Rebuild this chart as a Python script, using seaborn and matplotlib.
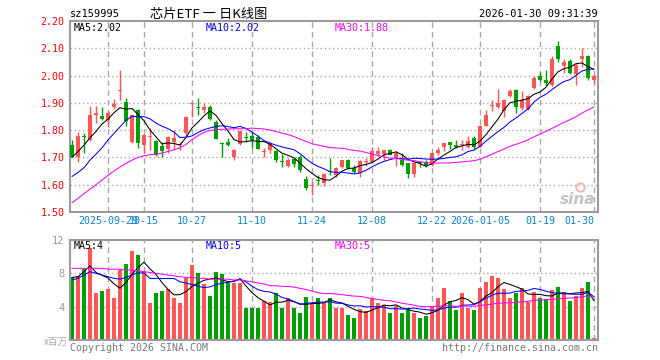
import numpy as np
import pandas as pd
import seaborn as sns
import matplotlib.pyplot as plt

# daily K-line, 2025-09-19 .. 2026-01-30 (88 sessions)
open_ = [1.746, 1.703, 1.778, 1.764, 1.857, 1.850, 1.837, 1.885, 1.944, 1.902,
         1.757, 1.874, 1.746, 1.774, 1.761, 1.742, 1.730, 1.758, 1.744, 1.790,
         1.896, 1.882, 1.874, 1.886, 1.831, 1.750, 1.755, 1.700, 1.749, 1.775,
         1.780, 1.774, 1.720, 1.727, 1.724, 1.687, 1.670, 1.694, 1.703, 1.620,
         1.597, 1.615, 1.605, 1.648, 1.636, 1.664, 1.691, 1.660, 1.642, 1.684,
         1.685, 1.712, 1.714, 1.728, 1.697, 1.691, 1.679, 1.640, 1.680, 1.685,
         1.673, 1.716, 1.738, 1.756, 1.746, 1.745, 1.738, 1.771, 1.740, 1.816,
         1.888, 1.885, 1.869, 1.924, 1.946, 1.881, 1.877, 1.955, 2.000, 1.985,
         1.967, 2.108, 2.034, 2.053, 2.004, 2.061, 2.071, 1.983]
close = [1.703, 1.777, 1.775, 1.857, 1.862, 1.842, 1.864, 1.895, 1.948, 1.835,
         1.855, 1.754, 1.782, 1.777, 1.709, 1.725, 1.774, 1.770, 1.748, 1.849,
         1.899, 1.880, 1.885, 1.841, 1.766, 1.748, 1.745, 1.727, 1.798, 1.772,
         1.765, 1.732, 1.723, 1.750, 1.690, 1.684, 1.691, 1.677, 1.654, 1.588,
         1.600, 1.612, 1.638, 1.645, 1.662, 1.691, 1.660, 1.648, 1.687, 1.686,
         1.725, 1.724, 1.727, 1.710, 1.716, 1.673, 1.640, 1.681, 1.678, 1.667,
         1.718, 1.728, 1.752, 1.746, 1.738, 1.747, 1.759, 1.738, 1.816, 1.857,
         1.891, 1.900, 1.912, 1.942, 1.885, 1.912, 1.926, 1.991, 1.985, 1.973,
         2.061, 2.059, 2.049, 2.010, 2.040, 2.073, 1.991, 2.000]
high = [1.765, 1.795, 1.789, 1.890, 1.890, 1.885, 1.870, 1.914, 2.022, 1.917,
        1.858, 1.876, 1.785, 1.808, 1.763, 1.758, 1.777, 1.800, 1.757, 1.852,
        1.904, 1.917, 1.898, 1.893, 1.838, 1.758, 1.772, 1.730, 1.800, 1.794,
        1.795, 1.783, 1.735, 1.758, 1.728, 1.712, 1.697, 1.703, 1.710, 1.632,
        1.611, 1.635, 1.642, 1.697, 1.666, 1.692, 1.693, 1.672, 1.691, 1.697,
        1.740, 1.740, 1.729, 1.730, 1.722, 1.716, 1.680, 1.685, 1.685, 1.690,
        1.720, 1.740, 1.754, 1.756, 1.763, 1.765, 1.777, 1.777, 1.818, 1.875,
        1.912, 1.950, 1.914, 1.951, 1.949, 1.942, 1.930, 1.998, 2.012, 2.022,
        2.071, 2.126, 2.059, 2.059, 2.047, 2.100, 2.074, 2.004]
low = [1.700, 1.683, 1.716, 1.760, 1.826, 1.836, 1.810, 1.877, 1.910, 1.815,
       1.752, 1.733, 1.716, 1.728, 1.705, 1.703, 1.716, 1.727, 1.727, 1.780,
       1.849, 1.855, 1.862, 1.838, 1.766, 1.703, 1.741, 1.692, 1.746, 1.758,
       1.735, 1.730, 1.700, 1.715, 1.685, 1.665, 1.665, 1.665, 1.648, 1.581,
       1.562, 1.600, 1.595, 1.636, 1.627, 1.662, 1.658, 1.642, 1.630, 1.667,
       1.684, 1.704, 1.690, 1.710, 1.669, 1.667, 1.624, 1.630, 1.665, 1.664,
       1.670, 1.710, 1.722, 1.730, 1.735, 1.727, 1.735, 1.730, 1.738, 1.814,
       1.869, 1.880, 1.850, 1.922, 1.863, 1.875, 1.872, 1.949, 1.979, 1.961,
       1.961, 2.050, 2.010, 2.004, 1.967, 2.032, 1.983, 1.973]
volume = [7.6, 7.7, 8.5, 11.0, 5.7, 5.9, 6.1, 5.0, 8.4, 9.1,
          10.7, 10.2, 8.3, 4.4, 5.7, 5.9, 6.1, 5.0, 4.5, 7.5,
          9.0, 8.1, 6.7, 5.3, 8.2, 7.9, 6.9, 6.8, 6.9, 3.9,
          3.9, 3.9, 4.7, 4.6, 5.6, 3.9, 5.0, 3.9, 3.3, 5.2,
          4.5, 5.0, 4.4, 5.1, 3.9, 3.8, 3.0, 2.6, 3.7, 3.5,
          5.1, 4.5, 4.2, 3.2, 4.1, 3.2, 3.6, 3.2, 2.6, 2.9,
          4.0, 5.1, 6.3, 4.7, 3.6, 5.7, 3.9, 3.6, 6.2, 7.0,
          7.7, 7.5, 6.1, 5.0, 5.7, 6.2, 4.6, 5.8, 5.1, 4.9,
          6.0, 6.4, 5.8, 4.7, 5.3, 6.3, 7.0, 0.3]

# moving-average values at the left edge (their windows start before the chart)
ma5_head = [1.700, 1.722, 1.745, 1.772]
ma10_head = [1.630, 1.645, 1.662, 1.690, 1.712, 1.735, 1.764, 1.788, 1.812]
ma30_head = [1.534, 1.550, 1.567, 1.584, 1.600, 1.617, 1.634, 1.650, 1.665, 1.678,
             1.690, 1.700, 1.706, 1.710, 1.712, 1.716, 1.722, 1.728, 1.735, 1.748,
             1.765, 1.780, 1.792, 1.799, 1.802, 1.803, 1.804, 1.805, 1.805]
vma5_head = [7.5, 7.6, 8.2, 8.9]
vma10_head = [7.2, 7.4, 7.8, 8.2, 8.0, 7.8, 7.6, 7.4, 7.3]
vma30_head = [8.6, 8.6, 8.6, 8.6, 8.6, 8.6, 8.5, 8.5, 8.5, 8.4,
              8.4, 8.3, 8.2, 8.1, 8.0, 7.9, 7.8, 7.7, 7.6, 7.5,
              7.5, 7.4, 7.4, 7.3, 7.3, 7.3, 7.3, 7.2, 7.2]

tick_pos = [6, 12, 20, 30, 40, 50, 60, 68, 78, 87]
tick_lbl = ['2025-09-29', '10-15', '10-27', '11-10', '11-24', '12-08',
            '12-22', '2026-01-05', '01-19', '01-30']

RED, GREEN = '#ff5555', '#00a000'
GRID = '#a8a8a8'
FRAME = '#9a9a9a'
LW = 0.75


def ma(s, n, head):
    m = s.rolling(n).mean()
    m.iloc[:len(head)] = head
    return m


df = pd.DataFrame({'o': open_, 'h': high, 'l': low, 'c': close, 'v': volume})
df['i'] = np.arange(len(df))
df['ma5'] = ma(df.c, 5, ma5_head)
df['ma10'] = ma(df.c, 10, ma10_head)
df['ma30'] = ma(df.c, 30, ma30_head)
df['vma5'] = ma(df.v, 5, vma5_head)
df['vma10'] = ma(df.v, 10, vma10_head)
df['vma30'] = ma(df.v, 30, vma30_head)
colors = np.where(df.c >= df.o, RED, GREEN)

sns.set_style('white')
plt.rcParams['font.family'] = ['DejaVu Sans Mono']
CJK = ['Noto Sans CJK SC', 'DejaVu Sans']

W, H = 660, 360
fig = plt.figure(figsize=(W / 100, H / 100), dpi=100)


def box(l, t, r, b):
    return [l / W, 1 - b / H, (r - l) / W, (b - t) / H]


ax = fig.add_axes(box(70, 21, 598, 212))
axv = fig.add_axes(box(70, 240, 598, 340))

for a in (ax, axv):
    a.set_xlim(-0.33, 87.67)
    for sp in a.spines.values():
        sp.set_color(FRAME)
        sp.set_linewidth(1.5)
    for p in tick_pos:
        a.axvline(p, color=GRID, lw=1, ls=(0, (4, 3)), zorder=0)
    a.set_xticks([])

# price panel
ax.set_ylim(1.5, 2.2)
for y in np.arange(1.6, 2.15, 0.1):
    ax.axhline(y, color=GRID, lw=1, ls=(0, (1, 2)), zorder=0)
ax.set_yticks(np.round(np.arange(1.5, 2.21, 0.1), 2))
ax.set_yticklabels([f'{v:.2f}' for v in np.arange(1.5, 2.21, 0.1)], color='red', fontsize=7.2)
ax.tick_params(axis='y', length=0, pad=4)

ax.vlines(df.i, df.l, df.h, colors=colors, lw=1, zorder=2)
body = (df.c - df.o).abs().clip(lower=0.0035)
ax.bar(df.i, body, bottom=np.minimum(df.o, df.c), width=0.8, color=colors, linewidth=0, zorder=3)

sns.lineplot(x=df.i, y=df.ma5, ax=ax, color='black', lw=LW, zorder=4)
sns.lineplot(x=df.i, y=df.ma10, ax=ax, color='#0000ff', lw=LW, zorder=4)
sns.lineplot(x=df.i, y=df.ma30, ax=ax, color='#ff00ff', lw=LW, zorder=4)
ax.set_xlabel('')
ax.set_ylabel('')

ax.text(0.006, 0.965, f'MA5:{df.ma5.iloc[-1]:.2f}', transform=ax.transAxes,
        color='black', fontsize=7.2, va='center')
ax.text(0.256, 0.965, f'MA10:{df.ma10.iloc[-1]:.2f}', transform=ax.transAxes,
        color='#0000ff', fontsize=7.2, va='center')
ax.text(0.502, 0.965, f'MA30:{df.ma30.iloc[-1]:.2f}', transform=ax.transAxes,
        color='#ff00ff', fontsize=7.2, va='center')

# the first two date labels overlap in the original as well
for p, lbl in zip(tick_pos, tick_lbl):
    ha = 'right' if p == tick_pos[-1] else 'center'
    ax.text(p, -0.047, lbl, transform=ax.get_xaxis_transform(), ha=ha,
            va='center', color='#0a84d0', fontsize=7.2)

# sina watermark
ax.text(0.995, 0.068, 'sina', transform=ax.transAxes, ha='right', va='center',
        color='#c4c4c4', fontsize=11, fontweight='bold', style='italic',
        family='DejaVu Sans')
ax.plot([0.965], [0.13], transform=ax.transAxes, marker='o', ms=6,
        mfc='none', mec='#f2b8b8', mew=1.5)

# volume panel
axv.set_ylim(0, 12)
for y in (4, 8):
    axv.axhline(y, color=GRID, lw=1, ls=(0, (1, 2)), zorder=0)
axv.bar(df.i, df.v, width=0.82, color=colors, linewidth=0, zorder=2)
sns.lineplot(x=df.i, y=df.vma5, ax=axv, color='black', lw=LW, zorder=4)
sns.lineplot(x=df.i, y=df.vma10, ax=axv, color='#0000ff', lw=LW, zorder=4)
sns.lineplot(x=df.i, y=df.vma30, ax=axv, color='#ff00ff', lw=LW, zorder=4)
axv.set_xlabel('')
axv.set_ylabel('')
axv.set_yticks([4, 8, 12])
axv.set_yticklabels(['4', '8', '12'], color='#999999', fontsize=7.5)
axv.tick_params(axis='y', length=0, pad=4)

axv.text(0.006, 0.94, f'MA5:{int(df.vma5.iloc[-1])}', transform=axv.transAxes,
         color='black', fontsize=7.2, va='center')
axv.text(0.256, 0.94, f'MA10:{int(df.vma10.iloc[-1])}', transform=axv.transAxes,
         color='#0000ff', fontsize=7.2, va='center')
axv.text(0.502, 0.94, f'MA30:{int(df.vma30.iloc[-1])}', transform=axv.transAxes,
         color='#ff00ff', fontsize=7.2, va='center')

# header and footer
fig.text(70 / W, 1 - 14 / H, 'sz159995', fontsize=7.5, va='center', color='black')
fig.text(150 / W, 1 - 14 / H, '芯片ETF 一 日K线图', fontsize=9.5, va='center',
         color='black', family=CJK)
fig.text(598 / W, 1 - 14 / H, '2026-01-30 09:31:39', fontsize=7.5, va='center',
         ha='right', color='black')
fig.text(68 / W, 1 - 342 / H, 'x百万', fontsize=7, va='center', ha='right',
         color='#aaaaaa', family=CJK)
fig.text(70 / W, 1 - 348 / H, 'Copyright 2026 SINA.COM', fontsize=7.2,
         va='center', color='#777777')
fig.text(598 / W, 1 - 348 / H, 'http://finance.sina.com.cn', fontsize=7.2,
         va='center', ha='right', color='#777777')

fig.savefig('out.png', dpi=100, facecolor='white')
